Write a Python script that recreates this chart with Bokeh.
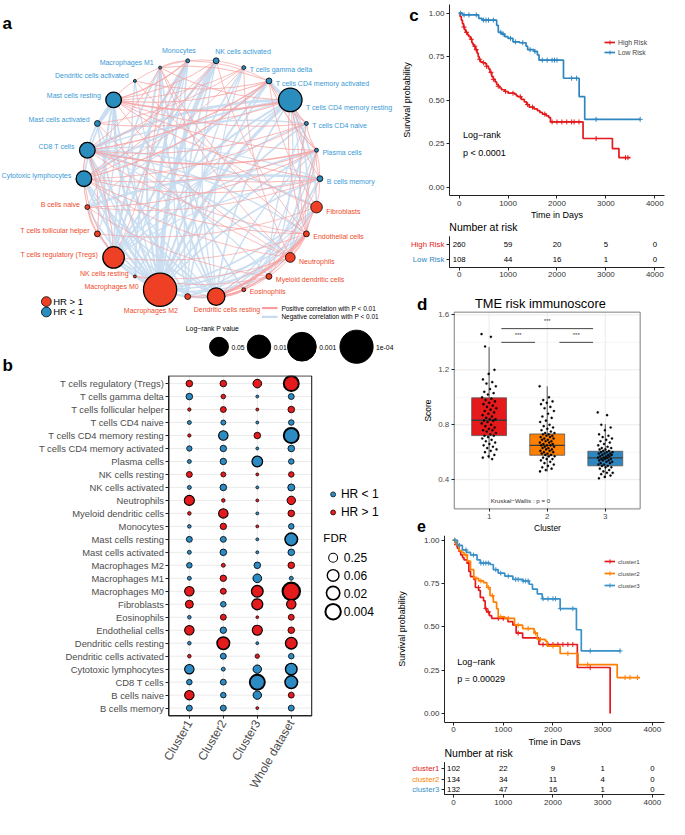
import math
from bokeh.plotting import figure
from bokeh.layouts import column, row
from bokeh.models import (Range1d, FixedTicker, Label, Legend, LegendItem, NumeralTickFormatter,
                          LinearAxis)
from bokeh.core.properties import value
from bokeh.embed import file_html
from bokeh.resources import INLINE

FONT = "Liberation Sans"

# ======================= DATA =======================
# ---- panel a : correlation network ----
net_cells = ["NK cells activated", "T cells gamma delta", "T cells CD4 memory activated",
             "T cells CD4 memory resting", "T cells CD4 naive", "Plasma cells", "B cells memory",
             "Fibroblasts", "Endothelial cells", "Neutrophils", "Myeloid dendritic cells",
             "Eosinophils", "Dendritic cells resting", "Macrophages M2", "Macrophages M0",
             "NK cells resting", "T cells regulatory (Tregs)", "T cells follicular helper",
             "B cells naive", "Cytotoxic lymphocytes", "CD8 T cells", "Mast cells activated",
             "Mast cells resting", "Dendritic cells activated", "Macrophages M1", "Monocytes"]
net_hr_above_1 = [0, 0, 0, 0, 0, 0, 0, 1, 1, 1, 1, 1, 1, 1, 1, 1, 1, 1, 1, 0, 0, 0, 0, 0, 0, 0]
net_logrank_p = [0.75, 0.88, 0.75, 0.01, 0.88, 0.88, 0.75, 0.32, 0.75, 0.45, 0.75, 0.88, 0.076,
                 0.75, 1e-4, 0.93, 0.021, 0.75, 0.82, 0.13, 0.13, 0.75, 0.13, 0.93, 0.93, 0.88]
net_pos_edges = [(22, 25, 0.35), (22, 0, 0.30), (22, 2, 0.32), (22, 3, 0.45), (22, 1, 0.28), (22, 5, 0.30),
                 (22, 4, 0.30), (20, 5, 0.42), (20, 2, 0.38), (20, 19, 0.35), (20, 6, 0.30), (20, 24, 0.30),
                 (20, 8, 0.28), (20, 0, 0.30), (20, 4, 0.30), (19, 5, 0.30), (19, 2, 0.33), (19, 0, 0.30),
                 (19, 4, 0.28), (19, 8, 0.30), (19, 9, 0.28), (19, 16, 0.30), (19, 17, 0.32), (19, 6, 0.30),
                 (19, 25, 0.30), (19, 1, 0.28), (16, 17, 0.35), (16, 20, 0.30), (16, 24, 0.28), (17, 20, 0.30),
                 (18, 5, 0.30), (18, 6, 0.28), (18, 17, 0.30), (12, 8, 0.60), (12, 11, 0.55), (12, 10, 0.30),
                 (11, 8, 0.32), (10, 8, 0.30), (9, 8, 0.30), (7, 8, 0.35), (7, 9, 0.28), (7, 5, 0.28),
                 (3, 4, 0.35), (3, 6, 0.30), (2, 24, 0.30), (2, 25, 0.28), (2, 4, 0.30), (2, 5, 0.33),
                 (3, 5, 0.30), (4, 8, 0.28), (4, 5, 0.30), (5, 6, 0.30), (5, 8, 0.28), (1, 25, 0.28),
                 (25, 24, 0.30), (25, 23, 0.28), (23, 22, 0.30), (15, 10, 0.28), (15, 9, 0.28), (13, 10, 0.30),
                 (13, 11, 0.30), (9, 12, 0.28), (10, 5, 0.28), (11, 6, 0.28), (21, 9, 0.28), (21, 3, 0.30),
                 (22, 9, 0.28), (24, 9, 0.28), (24, 8, 0.30), (23, 7, 0.28), (0, 8, 0.28), (1, 9, 0.28),
                 (3, 8, 0.30), (2, 7, 0.28), (16, 8, 0.28), (17, 7, 0.28), (18, 10, 0.28), (21, 1, 0.28),
                 (23, 2, 0.30), (24, 3, 0.30), (22, 6, 0.30)]
net_neg_edges = [(0, 14, -0.70), (25, 14, -0.55), (25, 16, -0.45), (24, 14, -0.40), (24, 12, -0.40),
                 (24, 11, -0.35), (22, 14, -0.45), (22, 16, -0.40), (22, 13, -0.35), (22, 20, -0.35),
                 (22, 19, -0.35), (21, 22, -0.50), (3, 14, -0.55), (3, 20, -0.50), (3, 19, -0.40),
                 (3, 16, -0.40), (3, 12, -0.35), (2, 3, -0.60), (2, 14, -0.40), (2, 13, -0.35), (4, 14, -0.35),
                 (5, 14, -0.35), (6, 14, -0.35), (6, 18, -0.45), (6, 20, -0.30), (6, 16, -0.30), (5, 16, -0.30),
                 (5, 12, -0.30), (20, 14, -0.50), (19, 14, -0.45), (19, 12, -0.35), (20, 12, -0.35),
                 (20, 13, -0.30), (19, 13, -0.30), (18, 14, -0.35), (17, 14, -0.30), (16, 14, -0.45),
                 (16, 12, -0.30), (14, 12, -0.40), (14, 10, -0.30), (14, 9, -0.35), (14, 8, -0.35),
                 (14, 7, -0.35), (13, 8, -0.30), (13, 7, -0.30), (12, 7, -0.30), (12, 6, -0.30), (11, 5, -0.30),
                 (11, 4, -0.30), (10, 3, -0.30), (10, 20, -0.30), (9, 20, -0.35), (9, 3, -0.30), (8, 20, -0.30),
                 (8, 3, -0.35), (7, 20, -0.35), (7, 3, -0.35), (1, 14, -0.35), (1, 13, -0.30), (1, 12, -0.30),
                 (0, 12, -0.30), (0, 13, -0.35), (0, 16, -0.40), (23, 14, -0.30), (23, 12, -0.30),
                 (21, 14, -0.35), (21, 12, -0.30), (18, 22, -0.30), (17, 22, -0.30), (4, 20, -0.30),
                 (4, 16, -0.30), (25, 12, -0.35), (25, 13, -0.30), (0, 15, -0.30), (6, 9, -0.30), (5, 9, -0.30),
                 (4, 10, -0.30), (25, 15, -0.35), (2, 16, -0.35), (3, 15, -0.30), (3, 18, -0.30), (24, 16, -0.35)]
pval_legend_values = [0.05, 0.01, 0.001, 1e-4]
pval_legend_labels = ["0.05", "0.01", "0.001", "1e-04"]

# ---- panel b : dot plot ----
b_cells = ["T cells regulatory (Tregs)", "T cells gamma delta", "T cells follicular helper",
           "T cells CD4 naive", "T cells CD4 memory resting", "T cells CD4 memory activated",
           "Plasma cells", "NK cells resting", "NK cells activated", "Neutrophils",
           "Myeloid dendritic cells", "Monocytes", "Mast cells resting", "Mast cells activated",
           "Macrophages M2", "Macrophages M1", "Macrophages M0", "Fibroblasts", "Eosinophils",
           "Endothelial cells", "Dendritic cells resting", "Dendritic cells activated",
           "Cytotoxic lymphocytes", "CD8 T cells", "B cells naive", "B cells memory"]
b_groups = ["Cluster1", "Cluster2", "Cluster3", "Whole dataset"]
b_hr_c1 = [1, 0, 1, 0, 1, 0, 0, 1, 0, 1, 1, 0, 0, 0, 0, 0, 1, 1, 0, 1, 0, 1, 0, 0, 1, 0]
b_hr_c2 = [1, 1, 1, 0, 0, 0, 0, 1, 0, 1, 1, 1, 0, 0, 1, 1, 1, 0, 1, 0, 1, 0, 0, 0, 0, 0]
b_hr_c3 = [1, 0, 1, 0, 1, 0, 0, 1, 0, 1, 0, 1, 0, 0, 0, 0, 1, 1, 1, 1, 0, 1, 0, 0, 0, 1]
b_hr_all = [1, 0, 1, 0, 0, 0, 0, 1, 0, 1, 1, 0, 0, 0, 1, 0, 1, 1, 1, 1, 1, 0, 0, 0, 1, 0]
b_fdr_c1 = [0.56, 0.56, 0.97, 0.92, 0.97, 0.75, 0.92, 0.66, 0.92, 0.15, 0.95, 0.95, 0.66, 0.92, 0.72,
            0.92, 0.20, 0.36, 0.95, 0.20, 0.95, 0.95, 0.20, 0.72, 0.20, 0.66]
b_fdr_c2 = [0.56, 0.85, 0.66, 0.80, 0.20, 0.59, 0.59, 0.80, 0.56, 0.95, 0.20, 0.59, 0.66, 0.56, 0.92,
            0.59, 0.66, 0.72, 0.66, 0.59, 0.034, 0.66, 0.92, 0.66, 0.72, 0.66]
b_fdr_c3 = [0.285, 0.99, 0.99, 0.99, 0.56, 0.99, 0.11, 0.99, 0.99, 0.99, 0.99, 0.99, 0.99, 0.99, 0.56,
            0.285, 0.063, 0.09, 0.995, 0.15, 0.99, 0.88, 0.31, 0.0056, 0.31, 0.99]
b_fdr_all = [0.0056, 0.66, 0.56, 0.72, 0.0056, 0.56, 0.72, 0.72, 0.50, 0.31, 0.56, 0.72, 0.034, 0.56,
             0.56, 0.92, 0.00065, 0.20, 0.66, 0.56, 0.063, 0.72, 0.063, 0.034, 0.66, 0.66]
fdr_legend_values = [0.25, 0.06, 0.02, 0.004]
fdr_legend_labels = ["0.25", "0.06", "0.02", "0.004"]

# ---- panel c : KM by risk group ----
time_ticks = [0, 1000, 2000, 3000, 4000]
c_high_t = [0, 20, 45, 67, 90, 110, 133, 170, 200, 233, 260, 280, 300, 330, 367, 390, 410, 433, 480, 533,
            560, 600, 630, 667, 700, 735, 767, 800, 830, 867, 930, 1000, 1133, 1170, 1200, 1270, 1333, 1380,
            1433, 1530, 1600, 1650, 1700, 1780, 1833, 1867, 2533, 3133, 3267, 3500]
c_high_s = [1.0, 0.98, 0.96, 0.94, 0.92, 0.905, 0.89, 0.875, 0.865, 0.85, 0.83, 0.82, 0.81, 0.79, 0.77,
            0.75, 0.735, 0.72, 0.715, 0.71, 0.695, 0.68, 0.66, 0.635, 0.62, 0.605, 0.59, 0.58, 0.57, 0.56,
            0.55, 0.54, 0.535, 0.525, 0.52, 0.505, 0.49, 0.475, 0.46, 0.45, 0.44, 0.43, 0.42, 0.41, 0.40,
            0.375, 0.28, 0.222, 0.17, 0.17]
c_high_censor = [100, 150, 250, 320, 350, 420, 500, 560, 650, 700, 800, 950, 1100, 1250, 1400, 1500, 1750,
                 1900, 2000, 2100, 2200, 2300, 2350, 2450, 2800, 3400, 3450]
c_low_t = [0, 67, 400, 467, 767, 800, 867, 933, 1000, 1100, 1233, 1367, 1400, 1533, 1600, 1633, 2133,
           2453, 2567, 3700]
c_low_s = [1.0, 0.99, 0.97, 0.96, 0.93, 0.89, 0.88, 0.865, 0.855, 0.835, 0.83, 0.81, 0.79, 0.78, 0.76,
           0.73, 0.626, 0.52, 0.39, 0.39]
c_low_censor = [30, 100, 200, 350, 500, 550, 600, 700, 850, 900, 1050, 1150, 1300, 1450, 1550, 1700, 1800,
                1900, 1950, 2000, 2300, 2400, 2800, 3700]
c_risk_high = [260, 59, 20, 5, 0]
c_risk_low = [108, 44, 16, 1, 0]

# ---- panel d : boxplot ----
d_clusters = [1, 2, 3]
d_q1 = [0.721, 0.578, 0.501]
d_median = [0.833, 0.650, 0.559]
d_q3 = [0.996, 0.733, 0.607]
d_whisker_lo = [0.554, 0.459, 0.411]
d_whisker_hi = [1.366, 1.08, 0.805]
d_scores_c1 = [1.46, 1.44, 1.37, 1.20, 1.17, 1.13, 1.11, 1.10, 1.08, 1.06, 1.04, 1.03, 1.02, 1.00, 0.99,
               0.98, 0.97, 0.96, 0.95, 0.94, 0.93, 0.92, 0.91, 0.90, 0.89, 0.88, 0.87, 0.86, 0.85, 0.84,
               0.84, 0.83, 0.83, 0.82, 0.81, 0.80, 0.79, 0.78, 0.77, 0.76, 0.76, 0.75, 0.74, 0.73, 0.72,
               0.72, 0.71, 0.70, 0.69, 0.68, 0.67, 0.66, 0.65, 0.64, 0.63, 0.62, 0.61, 0.60, 0.58, 0.57,
               0.56, 0.55]
d_scores_c2 = [1.08, 1.00, 0.98, 0.97, 0.96, 0.95, 0.93, 0.92, 0.90, 0.88, 0.86, 0.85, 0.83, 0.82, 0.80,
               0.79, 0.78, 0.77, 0.76, 0.75, 0.74, 0.74, 0.73, 0.73, 0.72, 0.72, 0.71, 0.71, 0.70, 0.70,
               0.69, 0.69, 0.68, 0.68, 0.67, 0.67, 0.66, 0.66, 0.65, 0.65, 0.65, 0.64, 0.64, 0.63, 0.63,
               0.62, 0.62, 0.61, 0.61, 0.60, 0.60, 0.59, 0.59, 0.58, 0.58, 0.57, 0.57, 0.56, 0.55, 0.55,
               0.54, 0.53, 0.52, 0.51, 0.50, 0.49, 0.48, 0.47, 0.46]
d_scores_c3 = [0.89, 0.87, 0.80, 0.78, 0.76, 0.73, 0.72, 0.71, 0.70, 0.69, 0.68, 0.67, 0.66, 0.65, 0.64,
               0.63, 0.63, 0.62, 0.62, 0.61, 0.61, 0.60, 0.60, 0.60, 0.59, 0.59, 0.59, 0.58, 0.58, 0.58,
               0.57, 0.57, 0.57, 0.56, 0.56, 0.56, 0.55, 0.55, 0.55, 0.54, 0.54, 0.54, 0.53, 0.53, 0.52,
               0.52, 0.51, 0.51, 0.50, 0.50, 0.49, 0.49, 0.48, 0.47, 0.46, 0.45, 0.45, 0.44, 0.43, 0.42,
               0.41]
d_comparisons = [(1, 2, "***"), (2, 3, "***"), (1, 3, "***")]
d_score_ticks = [0.4, 0.8, 1.2, 1.6]

# ---- panel e : KM by cluster ----
e_c1_t = [0, 40, 79, 110, 144, 180, 210, 276, 308, 341, 407, 439, 505, 538, 603, 636, 669, 720, 767, 1095,
          1193, 1259, 1390, 1718, 2490, 3150]
e_c1_s = [1.0, 0.975, 0.953, 0.935, 0.915, 0.90, 0.887, 0.868, 0.82, 0.79, 0.774, 0.727, 0.71, 0.67, 0.65,
          0.605, 0.586, 0.565, 0.549, 0.53, 0.51, 0.464, 0.436, 0.398, 0.265, 0.0]
e_c1_censor = [60, 300, 500, 650, 700, 900, 1000, 1300, 1800, 1900, 2000, 2100, 2200, 2300, 2400, 2750]
e_c2_t = [0, 50, 111, 160, 210, 276, 341, 407, 505, 603, 669, 734, 800, 866, 898, 1030, 1226, 1390, 1620,
          1685, 1849, 1882, 2144, 2505, 3292, 3751]
e_c2_s = [1.0, 0.97, 0.94, 0.93, 0.915, 0.88, 0.83, 0.78, 0.765, 0.755, 0.727, 0.68, 0.643, 0.605, 0.558,
          0.549, 0.51, 0.49, 0.464, 0.427, 0.417, 0.389, 0.346, 0.282, 0.207, 0.207]
e_c2_censor = [30, 250, 450, 550, 700, 780, 950, 1100, 1300, 1500, 1650, 1750, 2000, 2300, 2700, 3450,
               3550, 3700]
e_c3_t = [0, 79, 177, 260, 341, 472, 538, 734, 800, 898, 1030, 1193, 1390, 1521, 1587, 1685, 1784, 2144,
          2472, 2570, 3357]
e_c3_s = [1.0, 0.97, 0.944, 0.93, 0.915, 0.887, 0.868, 0.86, 0.83, 0.81, 0.793, 0.774, 0.765, 0.746,
          0.718, 0.69, 0.662, 0.605, 0.483, 0.361, 0.361]
e_c3_censor = [20, 120, 250, 400, 550, 600, 650, 700, 850, 950, 1100, 1250, 1300, 1400, 1450, 1500, 1800,
               1900, 2000, 2050, 2150, 2400, 2750, 3350]
e_risk_c1 = [102, 22, 9, 1, 0]
e_risk_c2 = [134, 34, 11, 4, 0]
e_risk_c3 = [132, 47, 16, 1, 0]

# ======================= STYLE =======================
RED = "#E41A1C"
BLUE = "#2E86C1"
BLUE_E = "#3A90C8"
ORANGE = "#FF7F00"
NODE_RED = "#EE4024"
NODE_BLUE = "#2B8CBE"
LAB_RED = "#EF4A2B"
LAB_BLUE = "#3A9AD6"
EDGE_POS = "#F8A0A0"
EDGE_NEG = "#C6DBEF"
DOT_BLUE = "#2D8BC3"

SX = 669.0 / 685.0
SY = 819.0 / 835.0


def sx(v):
    return int(round(v * SX))


def sy(v):
    return int(round(v * SY))


class FP:
    """A figure whose frame fills its whole box; ranges are chosen so that `area`
    (reference pixels) shows exactly axr x ayr. Axes are drawn at fixed locations."""

    def __init__(self, box, area=None, axr=None, ayr=None):
        x0, y0, x1, y1 = box
        if area is None:
            area, axr, ayr = box, (x0, x1), (y1, y0)
        ax0, ay0, ax1, ay1 = area
        self.ux = (axr[1] - axr[0]) / (ax1 - ax0)
        self.uy = (ayr[1] - ayr[0]) / (ay1 - ay0)
        self.xr = (axr[0] - (ax0 - x0) * self.ux, axr[1] + (x1 - ax1) * self.ux)
        self.yr = (ayr[0] - (y1 - ay1) * self.uy, ayr[1] + (ay0 - y0) * self.uy)
        self.box, self.axr, self.ayr = box, axr, ayr
        p = figure(width=sx(x1) - sx(x0), height=sy(y1) - sy(y0),
                   x_range=Range1d(*self.xr), y_range=Range1d(*self.yr),
                   x_axis_location=None, y_axis_location=None,
                   output_backend="svg", toolbar_location=None)
        p.min_border_left = p.min_border_right = p.min_border_top = p.min_border_bottom = 0
        p.outline_line_color = None
        p.grid.visible = False
        p.background_fill_color = "white"
        p.border_fill_color = "white"
        self.p = p

    def dx(self, X):
        return self.xr[0] + (X - self.box[0]) * self.ux

    def dy(self, Y):
        return self.yr[1] - (Y - self.box[1]) * self.uy

    def label(self, X, Y, text, size, color="black", align="left", bold=False, angle=0.0):
        self.p.add_layout(Label(x=self.dx(X), y=self.dy(Y), text=text, text_font=FONT,
                                text_font_size=f"{size}px", text_color=color, text_align=align,
                                text_baseline="middle", angle=angle,
                                text_font_style="bold" if bold else "normal"))

    def axis(self, side, ticks, tick_size="8px", color="#333333", title=None, title_size="9px",
             title_standoff=2, fmt=None, overrides=None, line_color="#222222"):
        if side in ("below", "above"):
            fixed, bounds = self.ayr[0], self.axr
        else:
            fixed, bounds = self.axr[0], self.ayr
        ax = LinearAxis(ticker=FixedTicker(ticks=ticks), fixed_location=fixed, bounds=bounds)
        if fmt is not None:
            ax.formatter = fmt
        if overrides is not None:
            ax.major_label_overrides = overrides
        ax.major_label_text_font = FONT
        ax.major_label_text_font_size = tick_size
        ax.major_label_text_color = color
        ax.minor_tick_line_color = None
        ax.major_tick_in = 0
        ax.major_tick_out = 3
        ax.major_label_standoff = 2
        ax.axis_line_color = line_color
        ax.major_tick_line_color = "#222222"
        if title:
            ax.axis_label = title
            ax.axis_label_text_font = FONT
            ax.axis_label_text_font_style = "normal"
            ax.axis_label_text_font_size = title_size
            ax.axis_label_text_color = "black"
            ax.axis_label_standoff = title_standoff
        self.p.add_layout(ax, side)
        return ax


def surv_at(ts, ss, t):
    v = ss[0]
    for ti, si in zip(ts, ss):
        if ti <= t:
            v = si
        else:
            break
    return v


def node_radius(pv):
    return 8.5 * math.sqrt(-math.log10(pv))


def dot_radius(fdr):
    return 1.2 + 4.2 * math.sqrt(-math.log10(fdr))


def dot_lw(fdr):
    return 0.7 + 0.55 * min(-math.log10(fdr), 2.6)


# ======================= PANEL A =======================
LEFT_W = 407
SPLIT_AB = 382
A = FP((0, 0, LEFT_W, SPLIT_AB))
pa = A.p
CX, CY, RAD = 206.5, 181.5, 121.0
n = len(net_cells)
ang = [math.radians(83.077 - i * 360.0 / n) for i in range(n)]
nx = [CX + RAD * math.cos(t) for t in ang]
ny = [CY - RAD * math.sin(t) for t in ang]
nr = [node_radius(p) for p in net_logrank_p]


def edge_geo(edges, base, slope):
    x0, y0, x1, y1, cx, cy, w = [], [], [], [], [], [], []
    for i, j, r in edges:
        ax_, ay_, bx_, by_ = nx[i], ny[i], nx[j], ny[j]
        mx, my = (ax_ + bx_) / 2, (ay_ + by_) / 2
        dxv, dyv = bx_ - ax_, by_ - ay_
        k = 0.12
        x0.append(ax_); y0.append(ay_); x1.append(bx_); y1.append(by_)
        cx.append(mx - k * dyv); cy.append(my + k * dxv)
        w.append(base + (abs(r) - 0.25) * slope)
    return dict(x0=x0, y0=y0, x1=x1, y1=y1, cx=cx, cy=cy, w=w)


pa.quadratic(x0="x0", y0="y0", x1="x1", y1="y1", cx="cx", cy="cy", line_width="w",
             line_color=EDGE_NEG, line_alpha=0.9, source=edge_geo(net_neg_edges, 0.9, 8.0))
pa.quadratic(x0="x0", y0="y0", x1="x1", y1="y1", cx="cx", cy="cy", line_width="w",
             line_color=EDGE_POS, line_alpha=0.85, source=edge_geo(net_pos_edges, 0.6, 6.0))
pa.scatter(nx, ny, size=[2 * r * SX for r in nr],
           fill_color=[NODE_RED if h else NODE_BLUE for h in net_hr_above_1],
           line_color="black", line_width=[1.3 if r > 6 else 0.8 for r in nr])

groups = {}
for i, name in enumerate(net_cells):
    c, s = math.cos(ang[i]), math.sin(ang[i])
    r = nr[i]
    if abs(c) < 0.2:
        if s > 0:
            if c < 0:
                lx, ly, al = nx[i] - 9, ny[i] - r - 8, "center"
            else:
                lx, ly, al = nx[i] - 1, ny[i] - r - 6, "left"
        else:
            if c < 0:
                lx, ly, al = nx[i] - 10, ny[i] + r + 11, "right"
            else:
                lx, ly, al = nx[i] - 23, ny[i] + r + 4, "left"
    elif c > 0:
        lx, ly, al = nx[i] + r + 4, ny[i] + 0.6 * r + 1, "left"
    else:
        lx, ly, al = nx[i] - r - 5, ny[i] - 3 - 2.5 * max(s, 0.0), "right"
    col = LAB_RED if net_hr_above_1[i] else LAB_BLUE
    g = groups.setdefault(al, dict(x=[], y=[], t=[], c=[]))
    g["x"].append(lx); g["y"].append(ly); g["t"].append(name); g["c"].append(col)
for al, g in groups.items():
    pa.text(x=g["x"], y=g["y"], text=g["t"], text_color=g["c"], text_align=al, text_baseline="middle",
            text_font=value(FONT), text_font_size=value("7px"))

# legends of panel a
pa.scatter([47, 47], [306.7, 317.3], size=10 * SX, fill_color=[NODE_RED, NODE_BLUE], line_color="black",
           line_width=0.8)
pa.text(x=[54, 54], y=[306.7, 317.3], text=["HR > 1", "HR < 1"], text_baseline="middle",
        text_font=value(FONT), text_font_size=value("9.5px"), text_color="black")
pa.segment(x0=[268, 268], y0=[313.3, 322.3], x1=[284, 284], y1=[313.3, 322.3],
           line_color=[EDGE_POS, EDGE_NEG], line_width=2.2)
pa.text(x=[288, 288], y=[313.3, 322.3],
        text=["Positive correlation with P < 0.01", "Negative correlation with P < 0.01"],
        text_baseline="middle", text_font=value(FONT), text_font_size=value("6.5px"), text_color="black")
A.label(190, 334.5, "Log\u2212rank P value", 6.8)
leg_cx = [224, 265, 309, 365]
pa.scatter(leg_cx, [352.7] * 4, size=[2 * node_radius(pv) * SX for pv in pval_legend_values],
           fill_color="black", line_color="black")
pa.text(x=[cx + node_radius(pv) + 3 for cx, pv in zip(leg_cx, pval_legend_values)], y=[353] * 4,
        text=pval_legend_labels, text_baseline="middle",
        text_font=value(FONT), text_font_size=value("6.8px"), text_color="black")
A.label(2, 23, "a", 17, bold=True)
A.label(2, 372, "b", 17, bold=True)

# ======================= PANEL B =======================
B = FP((0, SPLIT_AB, LEFT_W, 835), (172.7, 382.3, 319, 729.3), (0.4, 4.6), (0.4, 26.6))
pb = B.p
ncell = len(b_cells)
rows_y = [ncell - i for i in range(ncell)]
pb.segment(x0=[B.axr[0]] * ncell, y0=rows_y, x1=[B.axr[1]] * ncell, y1=rows_y, line_color="#EBEBEB",
           line_width=1)
pb.segment(x0=[1, 2, 3, 4], y0=[B.ayr[0]] * 4, x1=[1, 2, 3, 4], y1=[B.ayr[1]] * 4, line_color="#EBEBEB",
           line_width=1)
for gi, (hr, fdr) in enumerate([(b_hr_c1, b_fdr_c1), (b_hr_c2, b_fdr_c2), (b_hr_c3, b_fdr_c3),
                                (b_hr_all, b_fdr_all)]):
    pb.scatter([gi + 1] * ncell, rows_y, size=[2 * dot_radius(f) for f in fdr],
               fill_color=[RED if h else DOT_BLUE for h in hr], line_color="black",
               line_width=[dot_lw(f) for f in fdr])
pb.quad(left=[B.axr[0]], right=[B.axr[1]], bottom=[B.ayr[0]], top=[B.ayr[1]], fill_color=None,
        line_color="#333333", line_width=1.2)
B.axis("left", rows_y, tick_size="9.4px", color="#4D4D4D",
       overrides={ncell - i: nm for i, nm in enumerate(b_cells)})
xb = B.axis("below", [1, 2, 3, 4], tick_size="12px", color="#4D4D4D",
            overrides={i + 1: g for i, g in enumerate(b_groups)})
xb.major_label_orientation = math.pi / 3
# legend of panel b
pb.scatter([B.dx(341)] * 2, [B.dy(503.3), B.dy(521.7)], size=5, fill_color=[DOT_BLUE, RED],
           line_color="black", line_width=0.7)
pb.text(x=[B.dx(349)] * 2, y=[B.dy(503.3), B.dy(521.7)], text=["HR < 1", "HR > 1"], text_baseline="middle",
        text_font=value(FONT), text_font_size=value("12px"), text_color="black")
B.label(331, 548, "FDR", 11.5)
fdr_y = [B.dy(v) for v in (568, 586, 604, 623)]
pb.scatter([B.dx(341)] * 4, fdr_y, size=[2 * dot_radius(f) for f in fdr_legend_values], fill_color="white",
           line_color="black", line_width=[dot_lw(f) for f in fdr_legend_values])
pb.text(x=[B.dx(352)] * 4, y=fdr_y, text=fdr_legend_labels, text_baseline="middle", text_font=value(FONT),
        text_font_size=value("12px"), text_color="black")


# ======================= KM helpers =======================
def km_panel(box, area, axr, ayr, curves, legend_loc, leg_font, leg_h):
    P = FP(box, area, axr, ayr)
    p = P.p
    items = []
    for ts, ss, cens, col, name in curves:
        r1 = p.step(ts, ss, mode="after", line_color=col, line_width=1.7)
        r2 = p.scatter(cens, [surv_at(ts, ss, c) for c in cens], marker="cross", size=5,
                       line_color=col, line_width=1)
        items.append(LegendItem(label=name, renderers=[r1, r2]))
    leg = Legend(items=items, location=legend_loc, label_text_font=FONT, label_text_font_size=leg_font,
                 background_fill_alpha=0, border_line_alpha=0, padding=0, margin=0, spacing=0,
                 glyph_width=11, glyph_height=leg_h, label_height=leg_h, label_standoff=3, label_width=45)
    p.add_layout(leg)
    P.axis("below", time_ticks, title="Time in Days", title_standoff=1)
    P.axis("left", [0, 0.25, 0.5, 0.75, 1.0], fmt=NumeralTickFormatter(format="0.00"),
           title="Survival probability", title_standoff=14)
    return P


def risk_table(box, area, axr, ayr, rows, names, colors):
    P = FP(box, area, axr, ayr)
    p = P.p
    nrow = len(rows)
    for k, (vals, nm, col) in enumerate(zip(rows, names, colors)):
        yv = nrow - k
        p.text(x=time_ticks, y=[yv] * len(vals), text=[str(v) for v in vals], text_align="center",
               text_baseline="middle", text_font=value(FONT), text_font_size=value("7.8px"),
               text_color="black")
        P.axis("left", [yv], tick_size="7.8px", color=col, overrides={yv: nm})
    P.axis("below", time_ticks)
    return P


RX0 = LEFT_W
# ---- panel c ----
C = km_panel((RX0, 0, 685, 224), (460, 4, 680, 199), (-200, 4200), (-0.05, 1.05),
             [(c_high_t, c_high_s, c_high_censor, RED, "High Risk"),
              (c_low_t, c_low_s, c_low_censor, BLUE, "Low Risk")],
             (sx(618) - sx(RX0), sy(224) - sy(58)), "6.8px", 10)
C.label(474, 137, "Log\u2212rank", 9)
C.label(474, 155, "p < 0.0001", 9)
C.label(419, 15, "c", 17, bold=True)
CT = risk_table((RX0, 224, 685, 296), (460, 240, 680, 272), (-200, 4200), (0.467, 2.6),
                [c_risk_high, c_risk_low], ["High Risk", "Low Risk"], [RED, BLUE])
CT.label(460, 231, "Number at risk", 10.5)

# ---- panel d ----
D = FP((RX0, 296, 685, 545), (465, 318, 655, 518), (0.4, 3.6), (0.187, 1.62))
pdd = D.p
minor_y = [0.2, 0.6, 1.0, 1.4]
pdd.segment(x0=[D.axr[0]] * 4, y0=minor_y, x1=[D.axr[1]] * 4, y1=minor_y, line_color="#F3F3F3",
            line_width=0.8)
pdd.segment(x0=[D.axr[0]] * 4, y0=d_score_ticks, x1=[D.axr[1]] * 4, y1=d_score_ticks,
            line_color="#EBEBEB", line_width=1)
pdd.segment(x0=d_clusters, y0=[D.ayr[0]] * 3, x1=d_clusters, y1=[D.ayr[1]] * 3, line_color="#EBEBEB",
            line_width=1)
box_cols = [RED, ORANGE, BLUE]
pdd.segment(x0=d_clusters, y0=d_q3, x1=d_clusters, y1=d_whisker_hi, line_color="#555555", line_width=1)
pdd.segment(x0=d_clusters, y0=d_q1, x1=d_clusters, y1=d_whisker_lo, line_color="#555555", line_width=1)
pdd.vbar(x=d_clusters, width=0.6, bottom=d_q1, top=d_q3, fill_color=box_cols, line_color="#555555",
         line_width=0.8)
pdd.segment(x0=[c - 0.3 for c in d_clusters], y0=d_median, x1=[c + 0.3 for c in d_clusters], y1=d_median,
            line_color="#3A3A3A", line_width=1.4)
for c, sc in zip(d_clusters, [d_scores_c1, d_scores_c2, d_scores_c3]):
    xs = [c + (((i * 0.618034) % 1.0) - 0.5) * 0.26 for i in range(len(sc))]
    pdd.scatter(xs, sc, size=2.2, fill_color="black", line_color="black", line_width=0.3)
for a_, b_, txt in d_comparisons:
    lvl = 1.50 if abs(b_ - a_) > 1 else 1.40
    pdd.segment(x0=[a_ + 0.21], y0=[lvl], x1=[b_ - 0.21], y1=[lvl], line_color="#444444", line_width=1)
    pdd.text(x=[(a_ + b_) / 2], y=[lvl + 0.055], text=[txt], text_align="center", text_baseline="middle",
             text_font=value(FONT), text_font_size=value("6px"), text_color="#444444")
pdd.text(x=[1.54], y=[0.25], text=["Kruskal\u2212Wallis : p = 0"], text_align="center",
         text_baseline="middle", text_font=value(FONT), text_font_size=value("6.2px"), text_color="#333333")
pdd.quad(left=[D.axr[0]], right=[D.axr[1]], bottom=[D.ayr[0]], top=[D.ayr[1]], fill_color=None,
         line_color="#7F7F7F", line_width=1)
D.axis("below", d_clusters, color="#4D4D4D", title="Cluster", title_size="8.5px", title_standoff=1,
       line_color=None)
D.axis("left", d_score_ticks, color="#4D4D4D", title="Score", title_size="8.5px", title_standoff=2,
       line_color=None)
D.label(553, 309, "TME risk immunoscore", 12.8, align="center")
D.label(427, 310, "d", 17, bold=True)
D.label(427, 535, "e", 16, bold=True)

# ---- panel e ----
E = km_panel((RX0, 545, 685, 760), (455, 541, 680, 736), (-183, 4246), (-0.05, 1.05),
             [(e_c1_t, e_c1_s, e_c1_censor, RED, "cluster1"),
              (e_c2_t, e_c2_s, e_c2_censor, ORANGE, "cluster2"),
              (e_c3_t, e_c3_s, e_c3_censor, BLUE_E, "cluster3")],
             (sx(618) - sx(RX0), sy(760) - sy(603)), "6.2px", 12)
E.label(468, 675, "Log\u2212rank", 9)
E.label(468, 692, "p = 0.00029", 9)
ET = risk_table((RX0, 760, 685, 835), (455, 777, 680, 810), (-183, 4246), (0.545, 3.545),
                [e_risk_c1, e_risk_c2, e_risk_c3], ["cluster1", "cluster2", "cluster3"],
                [RED, ORANGE, BLUE_E])
ET.label(455, 768, "Number at risk", 10.5)

layout = row(column(A.p, B.p), column(C.p, CT.p, D.p, E.p, ET.p))
open("out.html", "w").write(file_html(layout, INLINE))
